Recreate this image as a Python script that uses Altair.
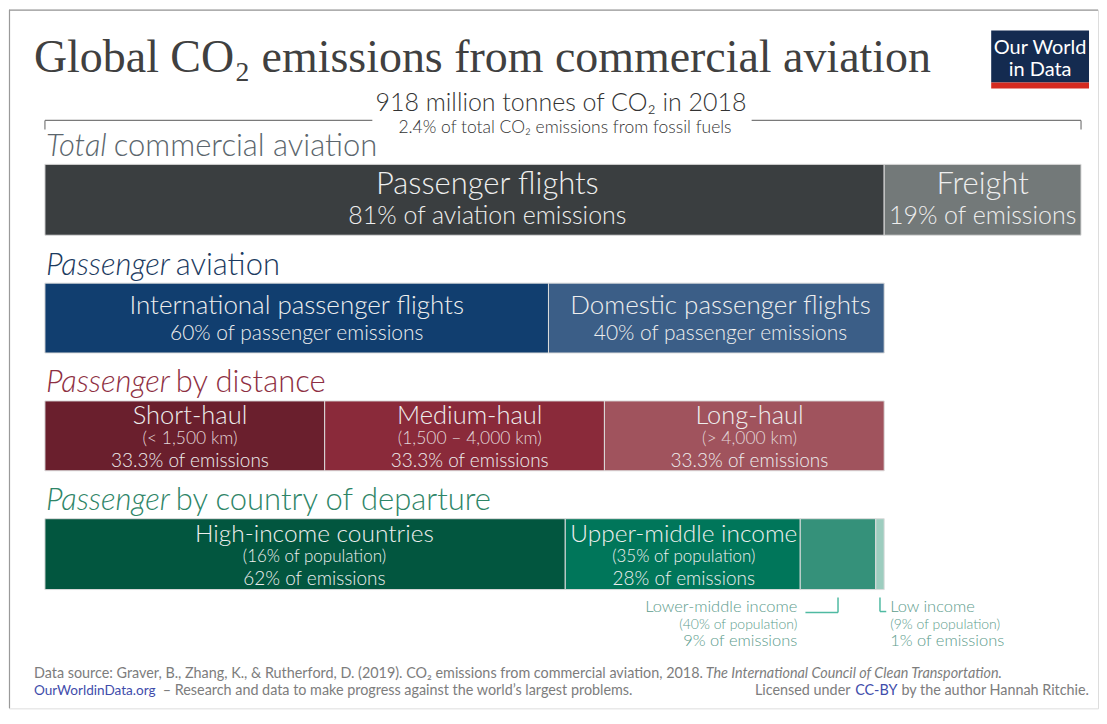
import altair as alt
import pandas as pd

# ---------------- data ----------------
total_labels = ["Passenger flights", "Freight"]
total_share = [81, 19]
total_sub = ["81% of aviation emissions", "19% of emissions"]
total_colors = ["#3a3e40", "#737979"]

pass_labels = ["International passenger flights", "Domestic passenger flights"]
pass_share = [60, 40]
pass_sub = ["60% of passenger emissions", "40% of passenger emissions"]
pass_colors = ["#113e6f", "#3b5e87"]

dist_labels = ["Short-haul", "Medium-haul", "Long-haul"]
dist_range = ["(< 1,500 km)", "(1,500 – 4,000 km)", "(> 4,000 km)"]
dist_share = [33.3, 33.3, 33.3]
dist_sub = ["33.3% of emissions", "33.3% of emissions", "33.3% of emissions"]
dist_colors = ["#6a1f2d", "#8a2a3a", "#a0535d"]

inc_labels = ["High-income countries", "Upper-middle income", "Lower-middle income", "Low income"]
inc_pop = ["(16% of population)", "(35% of population)", "(40% of population)", "(9% of population)"]
inc_share = [62, 28, 9, 1]
inc_sub = ["62% of emissions", "28% of emissions", "9% of emissions", "1% of emissions"]
inc_colors = ["#02563f", "#00765a", "#35917a", "#9dcdbf"]

# ---------------- layout ----------------
W, H = 1091, 700
PX_PER_UNIT = 10.38
X0 = 36  # chart px of 0 %
xs = alt.Scale(domain=[-X0 / PX_PER_UNIT, (W - X0) / PX_PER_UNIT], range=[0, W], nice=False, zero=False)
ys = alt.Scale(domain=[0, H], range=[0, H], nice=False, zero=False)

rows = {"total": (155, 226), "pass": (274, 344), "dist": (392, 462), "inc": (510, 581)}
line_y = {"total": [185, 215], "pass": [305, 331], "dist": [415, 435, 458], "inc": [533, 553, 576]}
line_fs = {"total": [31, 25], "pass": [26, 21], "dist": [25.5, 17.5, 19], "inc": [24.5, 17, 19]}
TXT = "#eeeeee"
TXT2 = "#e2d6d8"


def segments(shares, span):
    tot = float(sum(shares))
    out, acc = [], 0.0
    for s in shares:
        a = acc / tot * span
        acc += s
        b = acc / tot * span
        out.append((a, b))
    return out


seg_total = segments(total_share, 100)
pspan = seg_total[0][1]
seg_pass = segments(pass_share, pspan)
seg_dist = segments(dist_share, pspan)
seg_inc = segments(inc_share, pspan)

bar_rows = []
for key, segs, cols in [("total", seg_total, total_colors), ("pass", seg_pass, pass_colors),
                        ("dist", seg_dist, dist_colors), ("inc", seg_inc, inc_colors)]:
    for (a, b), c in zip(segs, cols):
        bar_rows.append({"x0": a, "x1": b, "top": rows[key][0], "bottom": rows[key][1], "color": c})
bar_df = pd.DataFrame(bar_rows)

lab = []


def add(key, segs, idxs, lines_list, shift=None):
    for i in idxs:
        a, b = segs[i]
        xm = (a + b) / 2 + (shift[i] if shift else 0)
        for j, lines in enumerate(lines_list):
            lab.append({"text": lines[i], "xm": xm, "yb": line_y[key][j], "fs": line_fs[key][j],
                        "col": TXT if j != 1 or key != "dist" else TXT2})


add("total", seg_total, [0, 1], [total_labels, total_sub], shift=[2.2, 0])
add("pass", seg_pass, [0, 1], [pass_labels, pass_sub], shift=[0, 0.4])
add("dist", seg_dist, [0, 1, 2], [dist_labels, dist_range, dist_sub], shift=[0.5, 0.5, 0.5])
add("inc", seg_inc, [0, 1], [inc_labels, inc_pop, inc_sub], shift=[0.9, 0.1])
lab_df = pd.DataFrame(lab)

# outside labels for the two small income groups
OUT_COL = "#5e9d8d"
out_y = [603, 620, 638]
out_fs = [16.5, 14, 16.5]
lm = seg_inc[2]
lo = seg_inc[3]
out_right = pd.DataFrame({"text": [inc_labels[2], inc_pop[2], inc_sub[2]], "x": [lm[0]] * 3,
                          "yb": out_y, "fs": out_fs})
out_left = pd.DataFrame({"text": [inc_labels[3], inc_pop[3], inc_sub[3]], "x": [lo[1]] * 3,
                         "yb": out_y, "fs": out_fs})
brk = pd.DataFrame({"a": [lm[0] + 0.5, (lo[0] + lo[1]) / 2], "b": [(lm[0] + lm[1]) / 2, lo[1] + 0.2],
                    "m": [(lm[0] + lm[1]) / 2, (lo[0] + lo[1]) / 2], "hy": [604, 603]})

dummy = pd.DataFrame({"d": [0]})


def txt(text, x, y, size, color, align="left", font="Lato", style="normal", weight="normal"):
    return alt.Chart(dummy).mark_text(text=text, align=align, baseline="alphabetic", font=font,
                                      fontSize=size, fontStyle=style, fontWeight=weight,
                                      color=color).encode(x=alt.value(x), y=alt.value(y))


def line(x1, y1, x2, y2, color, w=1.0):
    return alt.Chart(dummy).mark_rule(color=color, strokeWidth=w).encode(
        x=alt.value(x1), x2=alt.value(x2), y=alt.value(y1), y2=alt.value(y2))


layers = []
# frame
layers.append(line(0, 0.5, W, 0.5, "#9a9a9a", 1.2))
layers.append(line(0.5, 0, 0.5, H, "#9a9a9a", 1.2))

# title
layers.append(txt("Global CO₂ emissions from commercial aviation", 25, 62, 46, "#404040",
                  font="Liberation Serif"))
# logo
layers.append(alt.Chart(dummy).mark_rect(color="#142b50").encode(
    x=alt.value(984), x2=alt.value(1082), y=alt.value(21), y2=alt.value(73)))
layers.append(alt.Chart(dummy).mark_rect(color="#d42b21").encode(
    x=alt.value(984), x2=alt.value(1082), y=alt.value(73), y2=alt.value(79)))
layers.append(txt("Our World", 1033, 44, 20, "#ffffff", align="center"))
layers.append(txt("in Data", 1033, 66, 20, "#ffffff", align="center"))

# total bracket and header
layers.append(txt("918 million tonnes of CO₂ in 2018", 553, 102, 25, "#333333", align="center", weight=300))
layers.append(txt("2.4% of total CO₂ emissions from fossil fuels", 557, 124, 17.5, "#333333", align="center", weight=300))
bracket = pd.DataFrame({"a": [0.0], "b": [100.0]})
layers.append(alt.Chart(bracket).mark_rule(color="#7a7a7a", strokeWidth=1.2).encode(
    x=alt.X("a:Q", scale=xs, axis=None), x2=alt.value(364), y=alt.value(111)))
layers.append(alt.Chart(bracket).mark_rule(color="#7a7a7a", strokeWidth=1.2).encode(
    x=alt.X("b:Q", scale=xs, axis=None), x2=alt.value(744), y=alt.value(111)))
layers.append(alt.Chart(bracket).mark_rule(color="#7a7a7a", strokeWidth=1.2).encode(
    x=alt.X("a:Q", scale=xs, axis=None), y=alt.value(111), y2=alt.value(120)))
layers.append(alt.Chart(bracket).mark_rule(color="#7a7a7a", strokeWidth=1.2).encode(
    x=alt.X("b:Q", scale=xs, axis=None), y=alt.value(111), y2=alt.value(120)))

# section headings
HEAD = 31
layers.append(txt("Total", 37, 147, HEAD, "#5b666d", style="italic", weight=300))
layers.append(txt("commercial aviation", 105, 147, HEAD, "#5b666d", weight=300))
layers.append(txt("Passenger", 37, 266, HEAD, "#1b3a60", style="italic", weight=300))
layers.append(txt("aviation", 167, 266, HEAD, "#1b3a60", weight=300))
layers.append(txt("Passenger", 37, 383, HEAD, "#8e2f43", style="italic", weight=300))
layers.append(txt("by distance", 167, 383, HEAD, "#8e2f43", weight=300))
layers.append(txt("Passenger", 37, 501, HEAD, "#2e8567", style="italic", weight=300))
layers.append(txt("by country of departure", 167, 501, HEAD, "#2e8567", weight=300))

# bars
layers.append(alt.Chart(bar_df).mark_rect(stroke="#dcdcdc", strokeWidth=1).encode(
    x=alt.X("x0:Q", scale=xs, axis=None), x2="x1:Q",
    y=alt.Y("top:Q", scale=ys, axis=None), y2="bottom:Q",
    color=alt.Color("color:N", scale=None)))

# in-bar labels
layers.append(alt.Chart(lab_df).mark_text(align="center", baseline="alphabetic", font="Lato",
                                          fontWeight=300).encode(
    x=alt.X("xm:Q", scale=xs, axis=None), y=alt.Y("yb:Q", scale=ys, axis=None),
    text="text:N", size=alt.Size("fs:Q", scale=None), color=alt.Color("col:N", scale=None)))

# outside labels
layers.append(alt.Chart(out_right).mark_text(align="right", baseline="alphabetic", font="Lato",
                                             fontWeight=300, color=OUT_COL, dx=-3).encode(
    x=alt.X("x:Q", scale=xs, axis=None), y=alt.Y("yb:Q", scale=ys, axis=None),
    text="text:N", size=alt.Size("fs:Q", scale=None)))
layers.append(alt.Chart(out_left).mark_text(align="left", baseline="alphabetic", font="Lato",
                                            fontWeight=300, color=OUT_COL, dx=6).encode(
    x=alt.X("x:Q", scale=xs, axis=None), y=alt.Y("yb:Q", scale=ys, axis=None),
    text="text:N", size=alt.Size("fs:Q", scale=None)))
BRK = "#4fbaa2"
layers.append(alt.Chart(brk).mark_rule(color=BRK, strokeWidth=1.5).encode(
    x=alt.X("a:Q", scale=xs, axis=None), x2="b:Q", y=alt.Y("hy:Q", scale=ys, axis=None)))
layers.append(alt.Chart(brk).mark_rule(color=BRK, strokeWidth=1.5).encode(
    x=alt.X("m:Q", scale=xs, axis=None), y=alt.Y("hy:Q", scale=ys, axis=None), y2=alt.value(589)))

# footer
FG = "#7d7d7d"
BLUE = "#3f4dab"
FS = 14.4
layers.append(txt("Data source: Graver, B., Zhang, K., & Rutherford, D. (2019). CO₂ emissions from commercial aviation, 2018.",
                  25, 670, FS, FG))
layers.append(txt("The International Council of Clean Transportation.", 698, 670, FS, FG, style="italic"))
layers.append(txt("OurWorldinData.org", 25, 687, 13.6, BLUE))
layers.append(txt("– Research and data to make progress against the world’s largest problems.", 154, 687, FS, FG))
layers.append(txt("Licensed under", 843, 687, FS, FG, align="right"))
layers.append(txt("CC-BY", 890, 687, FS, BLUE, align="right"))
layers.append(txt("by the author Hannah Ritchie.", 1082, 687, FS, FG, align="right"))

chart = alt.layer(*layers).properties(width=W, height=H, padding=0).configure_view(
    stroke=None).configure(background="#ffffff")

chart.save("out.html", embed_options={"renderer": "svg", "actions": False})
